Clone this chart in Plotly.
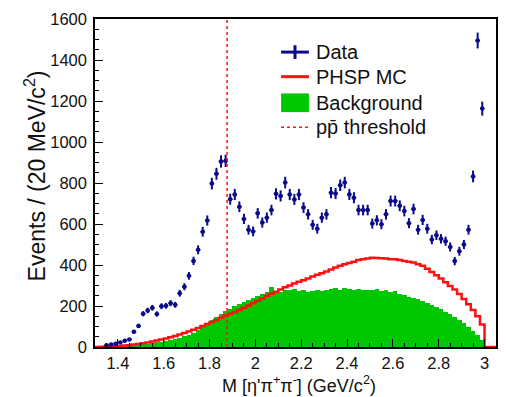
import numpy as np
import plotly.graph_objects as go

# ---- data -------------------------------------------------------------
bin_width = 0.02
first_center = 1.31
n_bins = 88  # 1.31 ... 3.05

# Data (events per 20 MeV), None = no point
data_events = [
    None, None, 8, 12, 16, 22, 30, 37, 74, 103,          # 1.31-1.49
    162, 178, 191, 161, 199, 201, 214, 206, 262, 294,    # 1.51-1.69
    347, 420, 474, 562, 617, 797, 845, 905, 908, 721,    # 1.71-1.89
    744, 684, 625, 572, 564, 652, 607, 631, 668, 747,    # 1.91-2.09
    737, 802, 744, 720, 744, 680, 647, 596, 577, 631,    # 2.11-2.29
    647, 753, 749, 789, 802, 744, 728, 668, 668, 668,    # 2.31-2.49
    602, 618, 599, 647, 712, 712, 689, 663, 604, 673,    # 2.51-2.69
    572, 620, 577, 524, 545, 528, 516, 488, 419, 467,    # 2.71-2.89
    500, 572, 832, 1495, 1163, None, None, None,         # 2.91-3.05
]

background = [
    0, 0, 1, 2, 3, 4, 5, 7, 9, 11,
    13, 16, 19, 22, 26, 30, 35, 40, 46, 52,
    60, 70, 82, 96, 112, 132, 148, 160, 176, 184,
    198, 208, 218, 230, 240, 248, 258, 266, 292, 272,
    268, 278, 276, 282, 272, 276, 270, 275, 280, 274,
    280, 282, 286, 278, 290, 282, 278, 284, 276, 280,
    278, 282, 272, 278, 268, 274, 258, 252, 246, 240,
    232, 226, 214, 206, 196, 184, 172, 162, 145, 130,
    115, 98, 80, 60, 32, 0, 0, 0,
]

phsp_mc = [
    0, 1, 2, 3, 4, 5, 7, 9, 12, 15,
    18, 22, 27, 32, 37, 42, 48, 54, 61, 68,
    76, 84, 93, 102, 112, 122, 132, 143, 154, 162,
    171, 180, 192, 203, 214, 226, 237, 250, 260, 270,
    280, 292, 300, 310, 318, 326, 334, 344, 352, 360,
    368, 378, 388, 396, 404, 410, 416, 424, 428, 432,
    435, 434, 433, 432, 428, 428, 424, 420, 416, 412,
    404, 396, 382, 366, 350, 334, 316, 298, 280, 258,
    234, 208, 180, 150, 110, 0, 0, 0,
]

ppbar_threshold = 1.8765  # GeV/c^2

x_range = [1.3, 3.05]
y_range = [0, 1600]
x_ticks = [1.4, 1.6, 1.8, 2.0, 2.2, 2.4, 2.6, 2.8, 3.0]
y_ticks = [0, 200, 400, 600, 800, 1000, 1200, 1400, 1600]

legend_labels = ["Data", "PHSP MC", "Background", "pp\u0304 threshold"]

# ---- derived ----------------------------------------------------------
centers = np.round(first_center + bin_width * np.arange(n_bins), 3)
edges = np.append(centers - bin_width / 2, centers[-1] + bin_width / 2)
phsp_step_y = list(phsp_mc) + [phsp_mc[-1]]

data_x = [c for c, v in zip(centers, data_events) if v is not None]
data_y = [v for v in data_events if v is not None]

NAVY = "#0b0b8a"
RED = "#ff1010"
GREEN = "#00c800"
FONT = "Liberation Sans, Arial, sans-serif"

fig = go.Figure()

fig.add_trace(go.Bar(
    x=centers, y=background, width=bin_width,
    marker=dict(color=GREEN, line=dict(width=0)),
    showlegend=False, name="Background",
))

fig.add_trace(go.Scatter(
    x=edges, y=phsp_step_y, mode="lines", line_shape="hv",
    line=dict(color=RED, width=2.5), showlegend=False, name="PHSP MC",
))

fig.add_trace(go.Scatter(
    x=data_x, y=data_y, mode="markers",
    marker=dict(color=NAVY, size=4.5),
    error_y=dict(type="sqrt", color=NAVY, thickness=2, width=0),
    error_x=dict(type="constant", value=bin_width / 2, color=NAVY, thickness=1.5, width=0),
    showlegend=False, name="Data",
))

fig.add_shape(type="line", x0=ppbar_threshold, x1=ppbar_threshold,
              xref="x", yref="paper", y0=0, y1=1,
              line=dict(color=RED, width=1.5, dash="dot"), layer="above")

# ---- manual legend (ROOT style) --------------------------------------
L, R, T, B = 95, 498, 13, 347
W, H = R - L, B - T
px = lambda x: (x - L) / W
py = lambda y: (B - y) / H

rows = [46.7, 71.7, 98.3, 123.3]
sx0, sx1 = 282, 310
fig.add_shape(type="line", xref="paper", yref="paper", x0=px(sx0), x1=px(sx1),
              y0=py(rows[0]), y1=py(rows[0]), line=dict(color=NAVY, width=3))
fig.add_shape(type="line", xref="paper", yref="paper", x0=px(296), x1=px(296),
              y0=py(rows[0] - 7), y1=py(rows[0] + 7), line=dict(color=NAVY, width=3))
fig.add_shape(type="line", xref="paper", yref="paper", x0=px(sx0), x1=px(sx1),
              y0=py(rows[1]), y1=py(rows[1]), line=dict(color=RED, width=3))
fig.add_shape(type="rect", xref="paper", yref="paper", x0=px(sx0), x1=px(sx1),
              y0=py(rows[2] + 9.5), y1=py(rows[2] - 9.5),
              line=dict(width=0), fillcolor=GREEN)
fig.add_shape(type="line", xref="paper", yref="paper", x0=px(sx0), x1=px(sx1),
              y0=py(rows[3]), y1=py(rows[3]), line=dict(color=RED, width=1.5, dash="dot"))

for label, ry in zip(legend_labels, rows):
    fig.add_annotation(text=label, xref="paper", yref="paper", x=px(315), y=py(ry),
                       xanchor="left", yanchor="middle", showarrow=False,
                       font=dict(family=FONT, size=20, color="#111111"))

# axis titles
fig.add_annotation(text="Events / (20 MeV/c<sup>2</sup>)", xref="paper", yref="paper",
                   x=px(35), y=py(173), textangle=-90, showarrow=False,
                   xanchor="center", yanchor="middle",
                   font=dict(family=FONT, size=23, color="#111111"))
fig.add_annotation(text="M [\u03b7'\u03c0<sup>+</sup>\u03c0<sup>-</sup>] (GeV/c<sup>2</sup>)",
                   xref="paper", yref="paper", x=px(300), y=py(385.5), showarrow=False,
                   xanchor="center", yanchor="middle",
                   font=dict(family=FONT, size=18, color="#111111"))

tick_common = dict(
    ticks="inside", ticklen=8, tickwidth=1.2, tickcolor="black",
    showgrid=False, zeroline=False,
    tickfont=dict(family=FONT, size=16.5, color="#111111"),
)

fig.update_layout(
    xaxis=dict(range=x_range, tickvals=x_ticks,
               ticktext=[("%g" % t) for t in x_ticks],
               showline=True, linecolor="black", linewidth=1.5, mirror=True,
               minor=dict(dtick=0.05, tick0=1.3, ticks="inside", ticklen=4,
                          tickcolor="black", tickwidth=1, showgrid=False),
               ticklabelstandoff=0, **tick_common),
    yaxis=dict(range=y_range, tickvals=y_ticks,
               showline=True, linecolor="black", linewidth=1.5, mirror=True,
               minor=dict(dtick=50, ticks="inside", ticklen=4,
                          tickcolor="black", tickwidth=1, showgrid=False),
               ticklabelstandoff=3, **tick_common),
    xaxis2=dict(range=x_range, overlaying="x", side="top", anchor="y",
                tickvals=x_ticks, showticklabels=False,
                minor=dict(dtick=0.05, tick0=1.3, ticks="inside", ticklen=4,
                           tickcolor="black", tickwidth=1, showgrid=False),
                **tick_common),
    yaxis2=dict(range=y_range, overlaying="y", side="right", anchor="x",
                tickvals=y_ticks, showticklabels=False,
                minor=dict(dtick=50, ticks="inside", ticklen=4,
                           tickcolor="black", tickwidth=1, showgrid=False),
                **tick_common),
    width=508, height=397,
    margin=dict(l=L, r=508 - R, t=T, b=397 - B),
    paper_bgcolor="white", plot_bgcolor="white",
    bargap=0, showlegend=False,
    font=dict(family=FONT),
)

fig.write_html("out.html")
